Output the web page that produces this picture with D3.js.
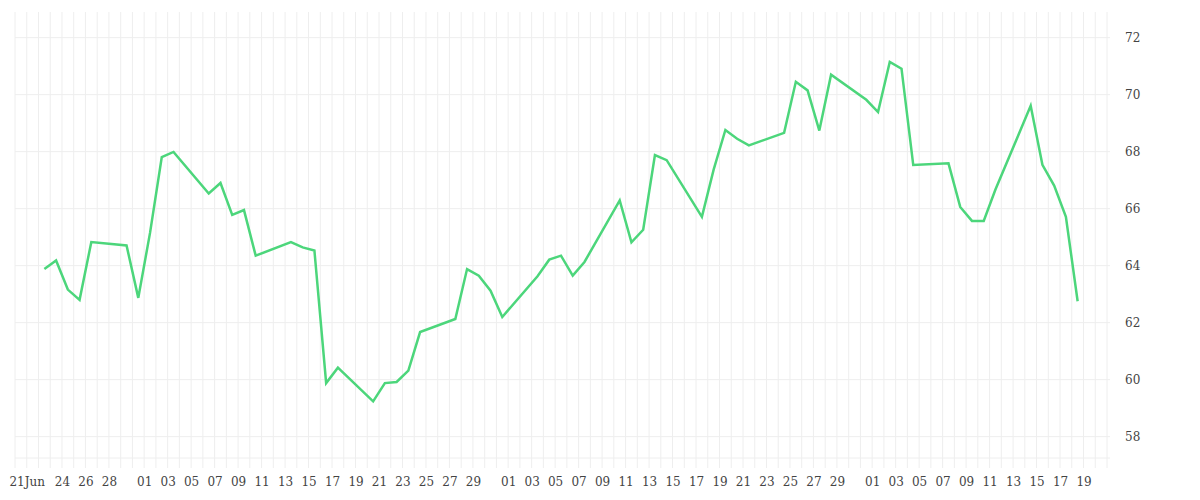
<!DOCTYPE html>
<html><head><meta charset="utf-8">
<script src="https://cdn.jsdelivr.net/npm/d3@7"></script>
<style>body{margin:0;background:#fff}text{font-family:"DejaVu Serif",serif;font-size:12px;fill:#444}</style>
</head><body><svg id="c" width="1200" height="500"></svg>
<script>
const dates = ["2015-06-22","2015-06-23","2015-06-24","2015-06-25","2015-06-26","2015-06-29","2015-06-30","2015-07-01","2015-07-02","2015-07-03",
"2015-07-06","2015-07-07","2015-07-08","2015-07-09","2015-07-10","2015-07-13","2015-07-14","2015-07-15","2015-07-16","2015-07-17",
"2015-07-20","2015-07-21","2015-07-22","2015-07-23","2015-07-24","2015-07-27","2015-07-28","2015-07-29","2015-07-30","2015-07-31",
"2015-08-03","2015-08-04","2015-08-05","2015-08-06","2015-08-07","2015-08-10","2015-08-11","2015-08-12","2015-08-13","2015-08-14",
"2015-08-17","2015-08-18","2015-08-19","2015-08-20","2015-08-21","2015-08-24","2015-08-25","2015-08-26","2015-08-27","2015-08-28",
"2015-08-31","2015-09-01","2015-09-02","2015-09-03","2015-09-04","2015-09-07","2015-09-08","2015-09-09","2015-09-10","2015-09-11",
"2015-09-14","2015-09-15","2015-09-16","2015-09-17","2015-09-18"];
const values = [63.88,64.18,63.16,62.80,64.83,64.71,62.87,65.15,67.81,67.99,
66.53,66.90,65.78,65.95,64.35,64.83,64.64,64.53,59.88,60.42,
59.24,59.88,59.92,60.32,61.67,62.13,63.88,63.65,63.12,62.20,
63.63,64.21,64.35,63.65,64.13,66.29,64.82,65.26,67.88,67.70,
65.71,67.37,68.76,68.45,68.22,68.66,70.45,70.15,68.74,70.70,
69.82,69.39,71.15,70.91,67.53,67.59,66.06,65.57,65.57,66.67,
69.61,67.54,66.81,65.71,62.75];
const yTicks = [58,60,62,64,66,68,70,72];
const xTickDates = ["2015-06-21","2015-06-24","2015-06-26","2015-06-28","2015-07-01","2015-07-03","2015-07-05","2015-07-07","2015-07-09","2015-07-11","2015-07-13","2015-07-15","2015-07-17","2015-07-19","2015-07-21","2015-07-23","2015-07-25","2015-07-27","2015-07-29","2015-08-01","2015-08-03","2015-08-05","2015-08-07","2015-08-09","2015-08-11","2015-08-13","2015-08-15","2015-08-17","2015-08-19","2015-08-21","2015-08-23","2015-08-25","2015-08-27","2015-08-29","2015-09-01","2015-09-03","2015-09-05","2015-09-07","2015-09-09","2015-09-11","2015-09-13","2015-09-15","2015-09-17","2015-09-19"];
const xTickLabels = ["21Jun","24","26","28","01","03","05","07","09","11","13","15","17","19","21","23","25","27","29","01","03","05","07","09","11","13","15","17","19","21","23","25","27","29","01","03","05","07","09","11","13","15","17","19"];

const p = d3.timeParse("%Y-%m-%d");
const L=15,R=1107,T=12,B=468;
const x = d3.scaleTime().domain([p("2015-06-20"),p("2015-09-21")]).range([L,R]);
const y = d3.scaleLinear().domain([56.9,72.9]).range([B,T]);
const svg = d3.select("#c");
const g = svg.append("g");
g.selectAll(".vg").data(d3.timeDay.range(x.domain()[0],d3.timeDay.offset(x.domain()[1],1))).join("line")
 .attr("x1",d=>x(d)).attr("x2",d=>x(d)).attr("y1",T).attr("y2",B).attr("stroke","#eeeeee");
g.selectAll(".hg").data(yTicks).join("line")
 .attr("x1",L).attr("x2",R+3).attr("y1",d=>y(d)).attr("y2",d=>y(d)).attr("stroke","#eeeeee");
g.append("line").attr("x1",L).attr("x2",R+3).attr("y1",B-10).attr("y2",B-10).attr("stroke","#eeeeee");
svg.append("g").attr("transform",`translate(${R+3},0)`)
 .call(d3.axisRight(y).tickValues(yTicks).tickSize(0).tickPadding(15))
 .call(a=>a.select(".domain").remove()).selectAll("text").attr("fill","#444").style("font-size","12px");
svg.append("g").attr("transform",`translate(0,${B})`)
 .call(d3.axisBottom(x).tickValues(xTickDates.map(p)).tickFormat((d,i)=>xTickLabels[i]).tickSize(0).tickPadding(9))
 .call(a=>a.select(".domain").remove()).selectAll("text").attr("fill","#444").style("font-size","12px");
const data = dates.map((d,i)=>({d:d3.timeHour.offset(p(d),12),v:values[i]}));
svg.append("path").datum(data).attr("fill","none").attr("stroke","#4cd67b").attr("stroke-width",2.5)
 .attr("stroke-linejoin","miter").attr("d",d3.line().x(d=>x(d.d)).y(d=>y(d.v)));
</script></body></html>
